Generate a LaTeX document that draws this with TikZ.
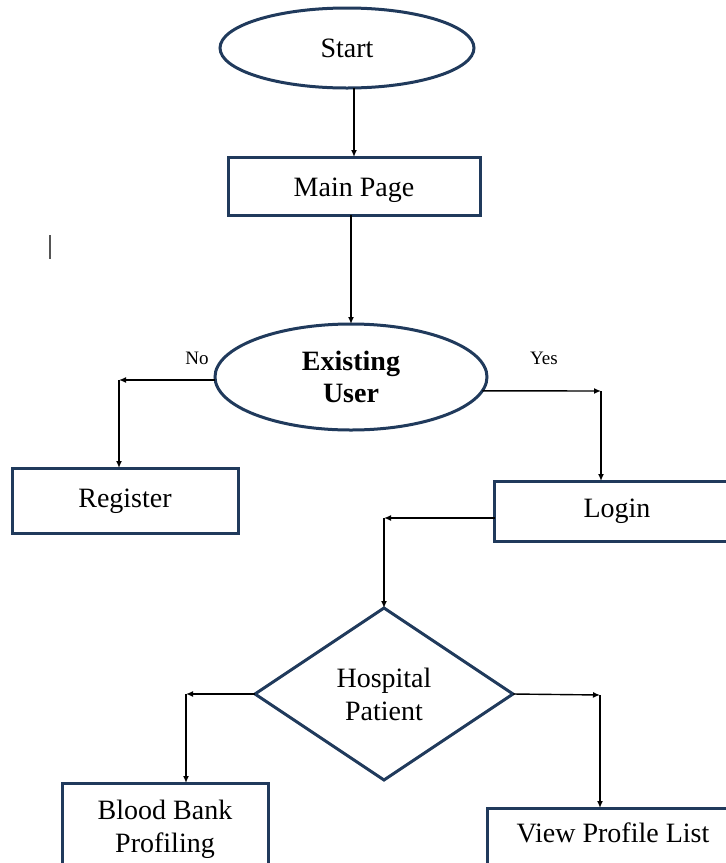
\documentclass[tikz,border=0pt]{standalone}
\usepackage{fontspec}
\setmainfont{Liberation Serif}
\usetikzlibrary{arrows.meta, shapes.geometric}
\definecolor{boxEdge}{HTML}{203A5C}
\definecolor{cursorCol}{HTML}{555555}

\begin{document}
\begin{tikzpicture}[x=1pt, y=-1pt]

\tikzset{
  flowbox/.style={draw=boxEdge, line width=3pt, rectangle, inner sep=0pt,
                  outer sep=0pt, anchor=north, align=center,
                  font=\fontsize{28}{33}\selectfont},
  flowoval/.style={draw=boxEdge, line width=3pt, ellipse, inner sep=0pt,
                   outer sep=0pt, align=center,
                   font=\fontsize{28}{32}\selectfont},
  flowdec/.style={draw=boxEdge, line width=3pt, diamond, inner sep=0pt,
                  outer sep=0pt, align=center,
                  font=\fontsize{28}{33}\selectfont},
  flowarr/.style={black, line width=1.4pt, -{Latex[length=7pt, width=6pt]}},
  branchlbl/.style={font=\fontsize{19}{22}\selectfont},
}

\useasboundingbox (0,0) rectangle (726,863);
\clip (0,0) rectangle (726,863);

% start
\node[flowoval, minimum width=254pt, minimum height=80pt] (start) at (347,48) {Start};
\node[flowbox, minimum width=252pt, text height=39pt, text depth=19pt] (mp) at (354,157) {Main Page};
\draw[flowarr] (start.south -| mp.north) -- (mp.north);

% cursor mark
\draw[cursorCol, line width=1.2pt] (50,235) -- (50,259);

% existing user
\node[flowoval, minimum width=272pt, minimum height=106pt,
      font=\bfseries\fontsize{28}{32}\selectfont] (eu) at (351,377) {Existing\\User};
\draw[flowarr] (mp.south -| eu.north) -- (eu.north);

% no
\node[branchlbl] (noLbl) at (197,358) {No};
\node[flowbox, minimum width=226pt, text height=39pt, text depth=26pt] (reg) at (125,468) {Register};
\coordinate (noC) at (119,380);
\draw[flowarr] (noC -| eu.west) -- (noC);
\draw[flowarr] (noC) -- (noC |- reg.north);

% yes
\node[branchlbl] (yesLbl) at (544,358) {Yes};
\node[flowbox, minimum width=245pt, text height=36pt, text depth=24pt] (login) at (617,481) {Login};
\coordinate (yesC) at (601,391);
\draw[flowarr] (eu.-6) -- (yesC);
\draw[flowarr] (yesC) -- (yesC |- login.north);

% hospital patient
\node[flowdec, minimum width=258pt, minimum height=172pt] (hp) at (384,694) {Hospital\\Patient};
\coordinate (logC) at (384,518);
\draw[flowarr] (logC -| login.west) -- (logC);
\draw[flowarr] (logC) -- (hp.north);

% blood bank
\node[flowbox, anchor=center, minimum width=206pt, minimum height=92pt] (blood) at (165,829) {Blood Bank\\Profiling};
\coordinate (hlC) at (186,694);
\draw[flowarr] (hp.west) -- (hlC);
\draw[flowarr] (hlC) -- (hlC |- blood.north);

% view profile list
\node[flowbox, minimum width=252pt, text height=34pt, text depth=60pt] (view) at (613,808) {View Profile List};
\coordinate (hrC) at (600,695);
\draw[flowarr] (hp.east) -- (hrC);
\draw[flowarr] (hrC) -- (hrC |- view.north);

\end{tikzpicture}
\end{document}
